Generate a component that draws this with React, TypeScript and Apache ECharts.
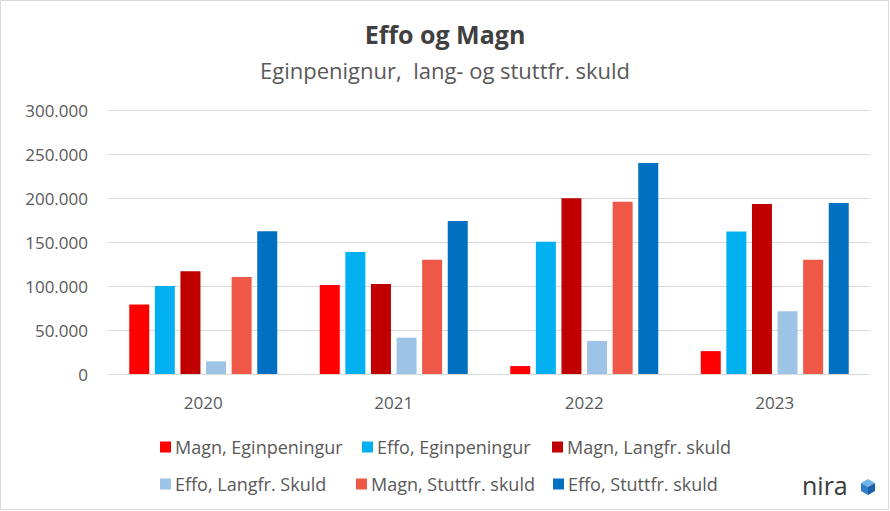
import React, { useEffect, useRef } from "react";
import * as echarts from "echarts";

const years = ["2020", "2021", "2022", "2023"];
const magnEgin = [79000, 101000, 9000, 26000];
const effoEgin = [100000, 138600, 150400, 162000];
const magnLang = [116700, 102300, 199600, 193200];
const effoLang = [14400, 41300, 37500, 71200];
const magnStutt = [110200, 129900, 195800, 129900];
const effoStutt = [162100, 173900, 239800, 194300];

const seriesNames = [
  "Magn, Eginpeningur",
  "Effo, Eginpeningur",
  "Magn, Langfr. skuld",
  "Effo, Langfr. Skuld",
  "Magn, Stuttfr. skuld",
  "Effo, Stuttfr. skuld",
];
const seriesData = [magnEgin, effoEgin, magnLang, effoLang, magnStutt, effoStutt];
const colors = ["#FF0000", "#00B0F0", "#C00000", "#9DC3E6", "#EF5847", "#0070C0"];

const FONT = "'Open Sans', 'Noto Sans', sans-serif";

const legendPos = [
  { left: 155, top: 433 },
  { left: 357, top: 433 },
  { left: 547, top: 433 },
  { left: 155, top: 470 },
  { left: 351, top: 470 },
  { left: 548, top: 470 },
];

export default function App() {
  const ref = useRef<HTMLDivElement>(null);
  useEffect(() => {
    if (!ref.current) return;
    const chart = echarts.init(ref.current, null, { renderer: "svg" });
    const option: any = {
      animation: false,
      backgroundColor: "#ffffff",
      color: colors,
      title: [
        {
          text: "Effo og Magn",
          left: "center",
          top: 16,
          textStyle: { fontFamily: FONT, fontSize: 25, fontWeight: "bold", color: "#404040" },
        },
        {
          text: "Eginpenignur,  lang- og stuttfr. skuld",
          left: "center",
          top: 54,
          textStyle: { fontFamily: FONT, fontSize: 22, fontWeight: "normal", color: "#595959" },
        },
      ],
      legend: seriesNames.map((n, i) => ({
        data: [n],
        left: legendPos[i].left,
        top: legendPos[i].top,
        icon: "rect",
        itemWidth: 11,
        itemHeight: 11,
        itemGap: 0,
        selectedMode: false,
        textStyle: { fontFamily: FONT, fontSize: 18, color: "#595959", padding: [0, 0, 0, -1] },
      })),
      grid: { left: 108, right: 20, top: 110, height: 264, containLabel: false },
      xAxis: {
        type: "category",
        data: years,
        axisLine: { show: true, lineStyle: { color: "#d9d9d9", width: 1 } },
        axisTick: { show: false },
        axisLabel: { fontFamily: FONT, fontSize: 17, color: "#595959", margin: 20 },
      },
      yAxis: {
        type: "value",
        min: 0,
        max: 300000,
        interval: 50000,
        axisLine: { show: false },
        axisTick: { show: false },
        splitLine: { lineStyle: { color: "#d9d9d9", width: 1 } },
        axisLabel: {
          fontFamily: FONT,
          fontSize: 17,
          color: "#595959",
          margin: 20,
          formatter: (v: number) => (v === 0 ? "0" : (v / 1000).toFixed(0) + ".000"),
        },
      },
      series: seriesNames.map((n, i) => ({
        name: n,
        type: "bar",
        data: seriesData[i],
        barWidth: 20,
        barGap: "28%",
        itemStyle: { color: colors[i] },
      })),
      graphic: [
        {
          type: "rect",
          shape: { x: 0.5, y: 0.5, width: 888, height: 509 },
          style: { fill: "none", stroke: "#d9d9d9", lineWidth: 1 },
          silent: true,
        },
        {
          type: "text",
          left: 802,
          top: 472,
          style: { text: "nira", fontFamily: FONT, fontSize: 25, fill: "#3a3a3a" },
        },
        {
          type: "group",
          left: 861,
          top: 479,
          children: [
            { type: "polygon", shape: { points: [[7, 0], [14, 4], [7, 8], [0, 4]] }, style: { fill: "#6FB3E8" } },
            { type: "polygon", shape: { points: [[0, 4], [7, 8], [7, 16], [0, 12]] }, style: { fill: "#2F7FC8" } },
            { type: "polygon", shape: { points: [[7, 8], [14, 4], [14, 12], [7, 16]] }, style: { fill: "#1A5FA6" } },
          ],
        },
      ],
    };
    chart.setOption(option);
    return () => chart.dispose();
  }, []);
  return (
    <div
      ref={ref}
      style={{ position: "fixed", left: 0, top: 0, width: 890, height: 511 }}
    />
  );
}
